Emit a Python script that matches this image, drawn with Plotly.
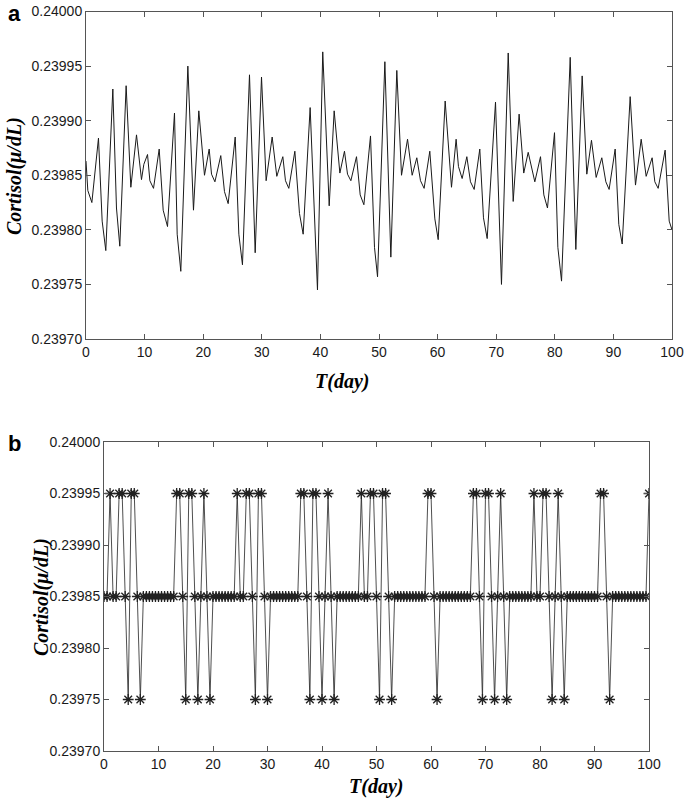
import plotly.graph_objects as go

# ---- panel a : simulated cortisol (line) ----
day_a = [0, 0.31, 1.0, 2.13, 2.76, 3.38, 4.58, 5.2, 5.77, 6.85, 7.65, 8.62, 9.47, 9.87,
         10.5, 10.9, 11.52, 12.49, 13.17, 13.91, 15.1, 15.56, 16.18, 17.38, 18.34, 19.25,
         20.22, 21.02, 21.42, 22.0, 23.0, 23.63, 24.26, 25.46, 26.08, 26.7, 27.9, 28.87,
         29.95, 30.74, 31.77, 32.56, 33.59, 34.04, 34.61, 35.64, 36.43, 37.06, 38.25, 39.5,
         40.4, 41.5, 42.35, 43.32, 44.11, 44.63, 45.2, 46.16, 46.79, 47.42, 48.55, 49.23,
         49.75, 51.0, 52.02, 53.04, 53.84, 54.87, 55.66, 56.45, 57.08, 57.7, 58.67, 59.53,
         60.1, 61.29, 62.37, 63.16, 63.56, 64.19, 64.99, 65.61, 66.24, 67.2, 67.83, 68.46,
         69.88, 70.9, 72.05, 72.9, 73.91, 74.7, 75.46, 76.59, 77.56, 78.13, 78.75, 79.95,
         80.52, 81.15, 82.63, 83.59, 84.67, 85.46, 86.26, 87.06, 88.02, 88.71, 89.27, 90.3,
         90.92, 91.5, 92.86, 93.77, 94.74, 95.59, 96.61, 97.07, 97.64, 98.83, 99.52, 100]
cortisol_a = [0.239863, 0.239836, 0.239825, 0.239884, 0.239808, 0.239781, 0.239929, 0.239820,
              0.239785, 0.239932, 0.239839, 0.239887, 0.239846, 0.239860, 0.239869, 0.239845,
              0.239838, 0.239874, 0.239818, 0.239803, 0.239907, 0.239796, 0.239762, 0.239950,
              0.239818, 0.239909, 0.239850, 0.239874, 0.239851, 0.239844, 0.239868, 0.239835,
              0.239824, 0.239885, 0.239796, 0.239768, 0.239942, 0.239779, 0.239940, 0.239845,
              0.239885, 0.239849, 0.239867, 0.239845, 0.239838, 0.239872, 0.239815, 0.239796,
              0.239912, 0.239745, 0.239963, 0.239822, 0.239909, 0.239852, 0.239872, 0.239851,
              0.239845, 0.239867, 0.239832, 0.239823, 0.239886, 0.239784, 0.239757, 0.239954,
              0.239775, 0.239946, 0.239850, 0.239883, 0.239850, 0.239866, 0.239845, 0.239838,
              0.239872, 0.239810, 0.239791, 0.239918, 0.239839, 0.239883, 0.239858, 0.239847,
              0.239867, 0.239844, 0.239837, 0.239874, 0.239811, 0.239792, 0.239917, 0.239750,
              0.239962, 0.239826, 0.239906, 0.239852, 0.239871, 0.239844, 0.239867, 0.239832,
              0.239820, 0.239889, 0.239784, 0.239753, 0.239958, 0.239782, 0.239941, 0.239851,
              0.239882, 0.239848, 0.239866, 0.239844, 0.239837, 0.239874, 0.239805, 0.239787,
              0.239922, 0.239841, 0.239883, 0.239849, 0.239866, 0.239844, 0.239838, 0.239873,
              0.239808, 0.239800]

# ---- panel b : three-level cortisol (asterisks) ----
n_steps_b = 180                     # samples 0..180 over 100 days
level_mid = 0.23985
level_high = 0.23995
level_low = 0.23975
high_idx = [2, 5, 6, 9, 10, 24, 25, 28, 29, 33, 44, 47, 48, 51, 52, 65, 66, 69, 70, 74,
            85, 88, 89, 92, 93, 107, 108, 122, 123, 126, 127, 131, 142, 145, 146, 150,
            164, 165, 180]
low_idx = [8, 12, 27, 31, 35, 50, 54, 68, 72, 76, 91, 95, 110, 125, 129, 133, 148, 152, 167]

day_b = [i * 100 / n_steps_b for i in range(n_steps_b + 1)]
cortisol_b = [level_mid] * (n_steps_b + 1)
for i in high_idx:
    cortisol_b[i] = level_high
for i in low_idx:
    cortisol_b[i] = level_low

y_ticks = [0.2397, 0.23975, 0.2398, 0.23985, 0.2399, 0.23995, 0.24]

fig = go.Figure()
fig.add_trace(go.Scatter(x=day_a, y=cortisol_a, mode="lines",
                         line=dict(color="#1a1a1a", width=1), xaxis="x", yaxis="y"))
fig.add_trace(go.Scatter(x=day_b, y=cortisol_b, mode="lines+markers",
                         line=dict(color="#222222", width=0.8),
                         marker=dict(symbol="asterisk-open", size=9,
                                     line=dict(color="black", width=1.3)),
                         xaxis="x2", yaxis="y2"))

tick_font = dict(family="Arial, Liberation Sans", size=14, color="#1a1a1a")
ax = dict(showline=True, mirror="ticks", linecolor="#555555", linewidth=1,
          ticks="inside", ticklen=5, tickcolor="#555555", showgrid=False,
          zeroline=False, tickfont=tick_font, automargin=False)

fig.update_layout(
    width=685, height=800, autosize=False,
    margin=dict(l=0, r=0, t=0, b=0),
    plot_bgcolor="white", paper_bgcolor="white",
    showlegend=False,
    xaxis=dict(ax, domain=[86 / 685, 672 / 685], range=[0, 100], dtick=10, anchor="y"),
    yaxis=dict(ax, domain=[1 - 339 / 800, 1 - 11.5 / 800], range=[0.2397, 0.24],
               tickvals=y_ticks, tickformat=".5f", anchor="x"),
    xaxis2=dict(ax, domain=[104 / 685, 649 / 685], range=[0, 100], dtick=10, anchor="y2"),
    yaxis2=dict(ax, domain=[1 - 751 / 800, 1 - 442 / 800], range=[0.2397, 0.24],
                tickvals=y_ticks, tickformat=".5f", anchor="x2"),
)

title_font = dict(family="Liberation Serif, Times New Roman", size=20, color="black")
label_font = dict(family="Arial, Liberation Sans", size=22, color="black")
notes = [
    dict(text="<b>a</b>", x=14 / 685, y=1 - 14 / 800, font=label_font),
    dict(text="<b>b</b>", x=14 / 685, y=1 - 443 / 800, font=label_font),
    dict(text="<b><i>Cortisol(μ/dL)</i></b>", x=15 / 685, y=1 - 176 / 800,
         textangle=-90, font=title_font),
    dict(text="<b><i>Cortisol(μ/dL)</i></b>", x=41 / 685, y=1 - 597 / 800,
         textangle=-90, font=title_font),
    dict(text="<b><i>T(day)</i></b>", x=342 / 685, y=1 - 381 / 800, font=title_font),
    dict(text="<b><i>T(day)</i></b>", x=376 / 685, y=1 - 786 / 800, font=title_font),
]
for n in notes:
    fig.add_annotation(xref="paper", yref="paper", showarrow=False,
                       xanchor="center", yanchor="middle", **n)

# drop the page's default 8px body margin so the figure sits at the window corner
fig.write_html("out.html", config={"displayModeBar": False},
               post_script="document.body.style.margin='0';document.body.style.overflow='hidden';")
